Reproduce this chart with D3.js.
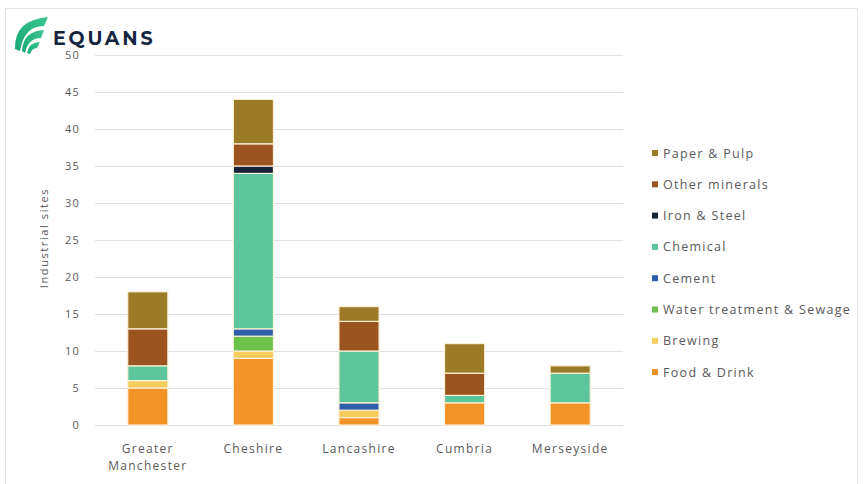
<!DOCTYPE html>
<html>
<head>
<meta charset="utf-8">
<script src="https://cdn.jsdelivr.net/npm/d3@7"></script>
<style>
  html, body { margin: 0; padding: 0; background: #fff; }
  svg { display: block; }
</style>
</head>
<body>
<svg id="chart" width="863" height="484"></svg>
<script>
// Regions shown along the x axis
const regions = ["Greater Manchester", "Cheshire", "Lancashire", "Cumbria", "Merseyside"];

// Number of industrial sites per sector, stacked bottom to top
const foodDrink      = [5, 9, 1, 3, 3];
const brewing        = [1, 1, 1, 0, 0];
const waterSewage    = [0, 2, 0, 0, 0];
const cement         = [0, 1, 1, 0, 0];
const chemical       = [2, 21, 7, 1, 4];
const ironSteel      = [0, 1, 0, 0, 0];
const otherMinerals  = [5, 3, 4, 3, 0];
const paperPulp      = [5, 6, 2, 4, 1];

const yTicks = [0, 5, 10, 15, 20, 25, 30, 35, 40, 45, 50];

const sectors = [
  { key: "Food & Drink", values: foodDrink, color: "#f39226" },
  { key: "Brewing", values: brewing, color: "#f6cd5c" },
  { key: "Water treatment & Sewage", values: waterSewage, color: "#6cc24a" },
  { key: "Cement", values: cement, color: "#2f5fa9" },
  { key: "Chemical", values: chemical, color: "#5cc59c" },
  { key: "Iron & Steel", values: ironSteel, color: "#17243a" },
  { key: "Other minerals", values: otherMinerals, color: "#9b531f" },
  { key: "Paper & Pulp", values: paperPulp, color: "#9c7b28" }
];

const table = regions.map((r, i) => {
  const row = { region: r };
  sectors.forEach(s => { row[s.key] = s.values[i]; });
  return row;
});

const svg = d3.select("#chart");
const textColor = "#595959";
const font = "Open Sans, sans-serif";

// outer frame
svg.append("rect")
  .attr("x", 5.5).attr("y", 8.5).attr("width", 852).attr("height", 480)
  .attr("fill", "none").attr("stroke", "#e2e2e2");

const plot = { left: 95, right: 623, top: 55, bottom: 425 };

const x = d3.scaleBand().domain(regions).range([plot.left, plot.right]).paddingInner(0.62).paddingOuter(0.31);
const y = d3.scaleLinear().domain([0, 50]).range([plot.bottom, plot.top]);

// gridlines
svg.append("g")
  .selectAll("line").data(yTicks).join("line")
  .attr("x1", plot.left).attr("x2", plot.right)
  .attr("y1", d => y(d) + 0.5).attr("y2", d => y(d) + 0.5)
  .attr("stroke", "#e0e0e0").attr("stroke-width", 1);

// y axis labels
const yAxis = svg.append("g")
  .attr("transform", `translate(${plot.left},0)`)
  .call(d3.axisLeft(y).tickValues(yTicks).tickSize(0).tickPadding(15));
yAxis.select(".domain").remove();
yAxis.selectAll("text")
  .attr("fill", textColor).attr("font-family", font).attr("font-size", 11)
  .attr("letter-spacing", 1.2);

// y axis title
svg.append("text")
  .attr("transform", "translate(48,238) rotate(-90)")
  .attr("text-anchor", "middle")
  .attr("font-family", font).attr("font-size", 11).attr("letter-spacing", 1.6)
  .attr("fill", textColor)
  .text("Industrial sites");

// stacked bars
const stack = d3.stack().keys(sectors.map(s => s.key));
const series = stack(table);
const colorOf = d3.scaleOrdinal().domain(sectors.map(s => s.key)).range(sectors.map(s => s.color));

svg.append("g")
  .selectAll("g").data(series).join("g")
  .attr("fill", d => colorOf(d.key))
  .selectAll("rect").data(d => d.filter(p => p[1] > p[0])).join("rect")
  .attr("x", d => x(d.data.region))
  .attr("width", x.bandwidth())
  .attr("y", d => y(d[1]))
  .attr("height", d => y(d[0]) - y(d[1]))
  .attr("stroke", "#fbf1d6").attr("stroke-width", 1.2);

// category labels (two lines where needed)
const xAxis = svg.append("g");
regions.forEach(r => {
  const parts = r === "Greater Manchester" ? ["Greater", "Manchester"] : [r];
  const cx = x(r) + x.bandwidth() / 2;
  const t = xAxis.append("text")
    .attr("x", cx).attr("y", 453)
    .attr("text-anchor", "middle")
    .attr("font-family", font).attr("font-size", 12).attr("letter-spacing", 1.3)
    .attr("fill", textColor);
  parts.forEach((p, i) => {
    t.append("tspan").attr("x", cx).attr("dy", i === 0 ? 0 : 17).text(p);
  });
});

// legend, top entry is the top of the stack
const legendItems = sectors.slice().reverse();
const legend = svg.append("g").selectAll("g").data(legendItems).join("g")
  .attr("transform", (d, i) => `translate(652,${153 + i * 31.3})`);
legend.append("rect")
  .attr("x", 0).attr("y", -3).attr("width", 6).attr("height", 6)
  .attr("fill", d => d.color);
legend.append("text")
  .attr("x", 11).attr("y", 4.5)
  .attr("font-family", font).attr("font-size", 12.5).attr("letter-spacing", 1.3)
  .attr("fill", textColor)
  .text(d => d.key);

// company logo
const logo = svg.append("g");
const grad = svg.append("defs").append("linearGradient")
  .attr("id", "leaf").attr("x1", "0").attr("y1", "1").attr("x2", "1").attr("y2", "0");
grad.append("stop").attr("offset", "0").attr("stop-color", "#17a876");
grad.append("stop").attr("offset", "1").attr("stop-color", "#3cc58f");
logo.append("path")
  .attr("d", "M15,49 Q14,20 48,17 L44,26 Q24,26 20,51 Z")
  .attr("fill", "url(#leaf)");
logo.append("path")
  .attr("d", "M22,51 Q23,31 44,30 L41,38 Q28,38 25,53 Z")
  .attr("fill", "url(#leaf)");
logo.append("path")
  .attr("d", "M27,53 Q29,42 40,42 L37,48 Q32,48 30,54 Z")
  .attr("fill", "url(#leaf)");
logo.append("text")
  .attr("x", 53).attr("y", 45)
  .attr("font-family", "Montserrat, Lato, sans-serif").attr("font-weight", 700)
  .attr("font-size", 19).attr("letter-spacing", 2.8)
  .attr("fill", "#14263f")
  .text("EQUANS");
</script>
</body>
</html>
